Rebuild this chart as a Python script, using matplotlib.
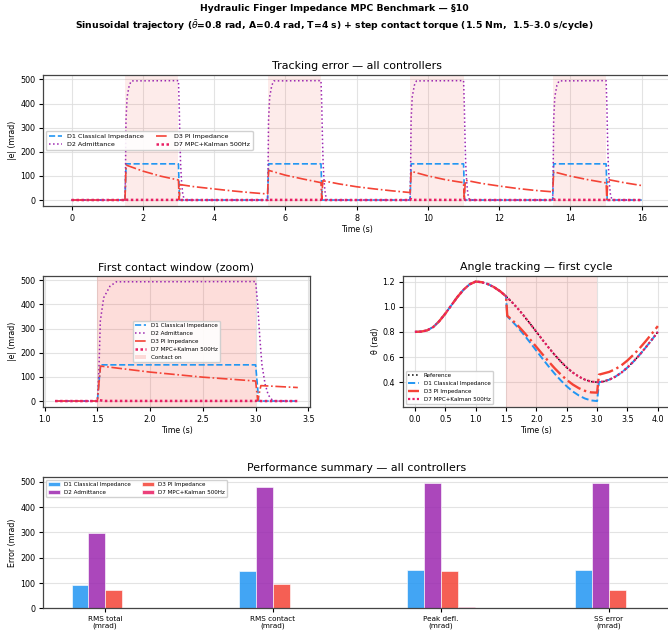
import matplotlib
matplotlib.use("Agg")
import matplotlib.pyplot as plt
import numpy as np

# contact windows (s)
contact_on = [1.5, 5.5, 9.5, 13.5]
contact_off = [3.0, 7.0, 11.0, 15.0]

# |e| (mrad) breakpoints for each controller
d1_t = [0, 1.1, 1.5, 1.53, 3.0, 3.03, 3.4, 5.5, 5.53, 7.0, 7.03, 9.5, 9.53,
        11.0, 11.03, 13.5, 13.53, 15.0, 15.03, 16.0]
d1_e = [0, 0, 0, 150, 150, 0, 0, 0, 150, 150, 0, 0, 150,
        150, 0, 0, 150, 150, 0, 0]

# D2 admittance: rise after contact on, fall after contact off
d2_rise_dt = [0.0, 0.015, 0.028, 0.06, 0.12, 0.18]
d2_rise_e = [0, 130, 331, 428, 476, 494]
d2_fall_dt = [0.0, 0.02, 0.04, 0.06, 0.09, 0.12, 0.16, 0.2]
d2_fall_e = [495, 400, 260, 150, 70, 25, 3, 0]

d3_t = [0, 1.1, 1.5, 1.53, 2.0, 2.5, 3.0, 3.02, 3.05, 3.4, 4.0, 4.5, 5.0, 5.5,
        5.53, 6.0, 6.5, 7.0, 7.02, 7.05, 7.5, 8.0, 8.5, 9.0, 9.5,
        9.53, 10.0, 10.5, 11.0, 11.02, 11.05, 11.5, 12.0, 12.5, 13.0, 13.5,
        13.53, 14.0, 14.5, 15.0, 15.02, 15.05, 15.5, 16.0]
d3_e = [0, 0, 0, 145, 120, 99, 83, 2, 64, 56, 46, 38, 31, 25,
        123, 103, 87, 72, 2, 80, 67, 55, 46, 38, 31,
        119, 100, 84, 72, 2, 82, 69, 58, 48, 40, 34,
        117, 99, 84, 71, 2, 85, 72, 60]

d7_t = [0, 1.1, 1.5, 1.52, 1.56, 3.0, 3.02, 3.05, 3.4, 5.5, 5.52, 5.56, 7.0, 7.02,
        7.05, 9.5, 9.52, 9.56, 11.0, 11.02, 11.05, 13.5, 13.52, 13.56, 15.0,
        15.02, 15.05, 16.0]
d7_e = [0, 0, 0, 4, 0.5, 0.5, 2, 0, 0, 0, 4, 0.5, 0.5, 2,
        0, 0, 4, 0.5, 0.5, 2, 0, 0, 4, 0.5, 0.5,
        2, 0, 0]

# first cycle joint angle
ang_t = [0.0, 0.1, 0.2, 0.3, 0.4, 0.5, 0.6, 0.7, 0.8, 0.9, 1.0, 1.1, 1.2, 1.3,
         1.4, 1.5, 1.52, 1.6, 1.7, 1.8, 1.9, 2.0, 2.1, 2.2, 2.3, 2.4, 2.5, 2.6,
         2.7, 2.8, 2.9, 3.0, 3.03, 3.1, 3.2, 3.3, 3.4, 3.5, 3.6, 3.7, 3.8, 3.9, 4.0]
theta_ref = [0.800, 0.802, 0.812, 0.838, 0.885, 0.945, 1.012, 1.078, 1.135, 1.178,
             1.200, 1.195, 1.180, 1.156, 1.124, 1.083, 1.073, 1.035, 0.982, 0.924,
             0.863, 0.800, 0.737, 0.676, 0.618, 0.565, 0.517, 0.476, 0.444, 0.420,
             0.405, 0.400, 0.400, 0.405, 0.420, 0.444, 0.476, 0.517, 0.565, 0.618,
             0.676, 0.737, 0.800]
# deviation below the reference (mrad)
dev_d1 = [0] * 16 + [150] * 16 + [0] * 11
dev_d3 = [0] * 16 + [145, 140, 135, 130, 125, 120, 115, 111, 107, 103, 99, 95, 92,
                     89, 86, 83] + [-60, -64, -62, -60, -58, -56, -54, -52, -50,
                                    -48, -46]

# summary metrics
metrics = ["RMS total\n(mrad)", "RMS contact\n(mrad)", "Peak defl.\n(mrad)",
           "SS error\n(mrad)"]
bar_d1 = [92, 148, 150, 150]
bar_d2 = [298, 481, 495, 495]
bar_d3 = [71, 98, 146, 74]
bar_d7 = [1, 1, 4, 0.5]

names = ["D1 Classical Impedance", "D2 Admittance", "D3 PI Impedance",
         "D7 MPC+Kalman 500Hz"]
colors = ["#2196F3", "#9C27B0", "#F44336", "#E91E63"]
styles = [dict(ls="--", lw=1.2), dict(ls=":", lw=1.1), dict(ls="-.", lw=1.2),
          dict(ls=(0, (1, 1)), lw=1.8)]

# assemble D2 from its rise / fall shapes
d2_t, d2_e = [0.0, 1.1], [0.0, 0.0]
for on, off in zip(contact_on, contact_off):
    d2_t += [on + dt for dt in d2_rise_dt] + [off + dt for dt in d2_fall_dt]
    d2_e += d2_rise_e + d2_fall_e
d2_t += [3.4, 16.0]
d2_e += [0.0, 0.0]
order = np.argsort(d2_t, kind="stable")
d2_t = list(np.array(d2_t)[order])
d2_e = list(np.array(d2_e)[order])

series = [(d1_t, d1_e), (d2_t, d2_e), (d3_t, d3_e), (d7_t, d7_e)]

plt.rcParams.update({
    "font.size": 5.7,
    "axes.edgecolor": "#444444",
    "axes.linewidth": 0.9,
    "xtick.labelsize": 5.8,
    "ytick.labelsize": 5.8,
    "xtick.major.pad": 2.5,
    "ytick.major.pad": 2.5,
    "xtick.major.size": 3,
    "ytick.major.size": 3,
    "axes.titlesize": 7.9,
    "axes.titlepad": 4,
    "axes.labelsize": 5.7,
    "axes.labelpad": 2,
})

fig = plt.figure(figsize=(6.68, 6.35), dpi=100)
fig.text(0.5, 0.993, "Hydraulic Finger Impedance MPC Benchmark — §10",
         ha="center", va="top", fontsize=6.7, fontweight="bold")
fig.text(0.5, 0.972,
         r"Sinusoidal trajectory ($\bar{\theta}$=0.8 rad, A=0.4 rad, T=4 s) + step contact torque (1.5 Nm,  1.5–3.0 s/cycle)",
         ha="center", va="top", fontsize=6.7, fontweight="bold")


def grid(ax):
    ax.grid(True, color="#dddddd", lw=0.8, alpha=0.8)
    ax.set_axisbelow(True)


# tracking error, whole run
ax1 = fig.add_axes([0.0644, 0.6756, 0.939, 0.2068])
for on, off in zip(contact_on, contact_off):
    ax1.axvspan(on, off, color="#F44336", alpha=0.1, lw=0)
for (t, e), name, c, st in zip(series, names, colors, styles):
    ax1.plot(t, e, color=c, label=name, **st)
ax1.set_title("Tracking error — all controllers")
ax1.set_xlabel("Time (s)")
ax1.set_ylabel("|e| (mrad)")
ax1.set_yticks([0, 100, 200, 300, 400, 500])
grid(ax1)
ax1.legend(loc="center left", ncol=2, fontsize=4.6, framealpha=0.9)

# zoom on the first contact window
win = (1.1, 3.4)
ax2 = fig.add_axes([0.0644, 0.359, 0.3996, 0.207])
ax2.axvspan(contact_on[0], contact_off[0], color="#F44336", alpha=0.18, lw=0,
            label="Contact on")
for (t, e), name, c, st in zip(series, names, colors, styles):
    t = np.asarray(t, float)
    e = np.asarray(e, float)
    inside = (t > win[0]) & (t < win[1])
    tz = np.concatenate([[win[0]], t[inside], [win[1]]])
    ez = np.concatenate([[np.interp(win[0], t, e)], e[inside],
                         [np.interp(win[1], t, e)]])
    ax2.plot(tz, ez, color=c, label=name, **st)
ax2.set_title("First contact window (zoom)")
ax2.set_xlabel("Time (s)")
ax2.set_ylabel("|e| (mrad)")
ax2.set_xticks([1.0, 1.5, 2.0, 2.5, 3.0, 3.5])
grid(ax2)
h, l = ax2.get_legend_handles_labels()
ax2.legend(h[1:] + h[:1], l[1:] + l[:1], loc="center", fontsize=4.1,
           framealpha=0.9)

# angle tracking, first cycle
ref = np.array(theta_ref)
ax3 = fig.add_axes([0.603, 0.359, 0.4, 0.207])
ax3.axvspan(contact_on[0], contact_off[0], color="#F44336", alpha=0.15, lw=0)
ax3.plot(ang_t, ref, color="black", ls=":", lw=1.1, label="Reference")
ax3.plot(ang_t, ref - np.array(dev_d1) / 1000, color=colors[0], ls="--", lw=1.4,
         label=names[0])
ax3.plot(ang_t, ref - np.array(dev_d3) / 1000, color=colors[2], ls="-.", lw=1.7,
         label=names[2])
ax3.plot(ang_t, ref, color=colors[3], ls=(0, (1, 1)), lw=1.6, label=names[3])
ax3.set_title("Angle tracking — first cycle")
ax3.set_xlabel("Time (s)")
ax3.set_ylabel("θ (rad)")
ax3.set_xticks(np.arange(0, 4.01, 0.5))
grid(ax3)
ax3.legend(loc="lower left", fontsize=4.1, framealpha=0.9)

# summary bars
ax4 = fig.add_axes([0.0644, 0.042, 0.94, 0.207])
x = np.arange(len(metrics))
w = 0.1
for j, (vals, name, c) in enumerate(zip([bar_d1, bar_d2, bar_d3, bar_d7], names,
                                        colors)):
    ax4.bar(x + (j - 1.5) * w, vals, w, color=c, alpha=0.85, label=name,
            edgecolor="white", linewidth=0.5)
ax4.set_xticks(x)
ax4.set_xticklabels(metrics, fontsize=5.2)
ax4.set_title("Performance summary — all controllers")
ax4.set_ylabel("Error (mrad)")
ax4.grid(True, axis="y", color="#dddddd", lw=0.8, alpha=0.8)
ax4.set_axisbelow(True)
ax4.legend(loc="upper left", ncol=2, fontsize=4.1, framealpha=0.9)

plt.savefig("out.png", dpi=100)
